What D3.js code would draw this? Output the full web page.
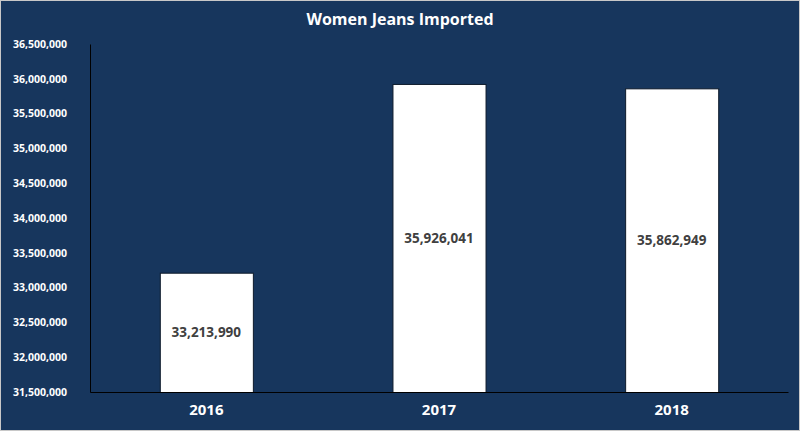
<!DOCTYPE html>
<html><head><meta charset="utf-8">
<script src="https://cdn.jsdelivr.net/npm/d3@7"></script>
<style>
html,body{margin:0;padding:0;background:#fff;}
svg{display:block;}
</style></head>
<body>
<svg id="chart" width="800" height="431"></svg>
<script>
const title = "Women Jeans Imported";
const years = ["2016", "2017", "2018"];
const imported = [33213990, 35926041, 35862949];
const yTicks = [31500000, 32000000, 32500000, 33000000, 33500000, 34000000, 34500000, 35000000, 35500000, 36000000, 36500000];

const W = 800, H = 431;
const m = {left: 90, right: 12, top: 44, bottom: 39};
const svg = d3.select("#chart");
const font = "'Open Sans', 'Liberation Sans', sans-serif";

svg.append("rect").attr("x", 0.5).attr("y", 0.5).attr("width", W - 1).attr("height", H - 1)
  .attr("fill", "#17365d").attr("stroke", "#c8c8c8").attr("stroke-width", 1);

const x = d3.scaleBand().domain(years).range([m.left, W - m.right]).paddingInner(0.6).paddingOuter(0.3);
const y = d3.scaleLinear().domain([31500000, 36500000]).range([H - m.bottom, m.top]);

svg.append("text").attr("x", 400).attr("y", 25).attr("text-anchor", "middle")
  .attr("fill", "#fff").attr("font-family", font).attr("font-weight", "bold").attr("font-size", 16)
  .text(title);

const fmt = d3.format(",");

const yAxis = svg.append("g").attr("transform", `translate(${m.left},0)`)
  .call(d3.axisLeft(y).tickValues(yTicks).tickFormat(fmt).tickSize(0).tickPadding(23));
yAxis.select(".domain").attr("stroke", "#000");
yAxis.selectAll("text").attr("fill", "#fff").attr("font-family", font).attr("font-weight", "bold").attr("font-size", 10.5);

svg.selectAll("rect.bar").data(imported).join("rect").attr("class", "bar")
  .attr("x", (d, i) => x(years[i]) + 0.5)
  .attr("y", d => y(d) + 0.5)
  .attr("width", x.bandwidth())
  .attr("height", d => y(31500000) - y(d))
  .attr("fill", "#fff").attr("stroke", "#0d1a2b").attr("stroke-width", 1);

svg.selectAll("text.lbl").data(imported).join("text").attr("class", "lbl")
  .attr("x", (d, i) => x(years[i]) + x.bandwidth() / 2)
  .attr("y", d => (y(d) + y(31500000)) / 2 + 5)
  .attr("text-anchor", "middle").attr("fill", "#404040")
  .attr("font-family", font).attr("font-weight", "bold").attr("font-size", 13.5)
  .text(d => fmt(d));

const xAxis = svg.append("g").attr("transform", `translate(0,${H - m.bottom})`)
  .call(d3.axisBottom(x).tickSize(0).tickPadding(12).tickSizeOuter(0));
xAxis.select(".domain").attr("stroke", "#000");
xAxis.selectAll("text").attr("fill", "#fff").attr("font-family", font).attr("font-weight", "bold").attr("font-size", 15);
</script>
</body></html>
